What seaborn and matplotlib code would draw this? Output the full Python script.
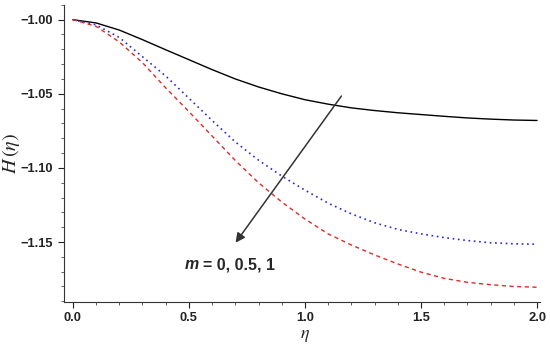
import numpy as np
import pandas as pd
import matplotlib
matplotlib.use("Agg")
import matplotlib.pyplot as plt
import seaborn as sns
from matplotlib.ticker import MultipleLocator, FormatStrFormatter, FuncFormatter

eta = [0.0, 0.1, 0.2, 0.3, 0.4, 0.5, 0.6, 0.7, 0.8, 0.9, 1.0,
       1.1, 1.2, 1.3, 1.4, 1.5, 1.6, 1.7, 1.8, 1.9, 2.0]
H_m0 = [-1.000, -1.0022, -1.007, -1.0135, -1.0203, -1.027, -1.0337, -1.0400, -1.0454, -1.050, -1.054,
        -1.057, -1.0595, -1.0613, -1.0628, -1.064, -1.0652, -1.0663, -1.0671, -1.0677, -1.068]
H_m05 = [-1.000, -1.0035, -1.012, -1.025, -1.038, -1.053, -1.068, -1.0825, -1.0948, -1.1055, -1.115,
         -1.1238, -1.131, -1.137, -1.1415, -1.1445, -1.147, -1.149, -1.1505, -1.1512, -1.1515]
H_m1 = [-1.000, -1.0045, -1.015, -1.029, -1.046, -1.062, -1.0785, -1.0950, -1.1100, -1.1230, -1.1345,
        -1.1445, -1.1520, -1.1587, -1.1648, -1.1703, -1.1745, -1.1772, -1.1788, -1.1800, -1.1805]
series_names = ["m=0", "m=0.5", "m=1"]
xticks_fmt = '%.1f'

sns.set_style("ticks")
plt.rcParams['font.family'] = ['Liberation Sans', 'DejaVu Sans']
plt.rcParams['mathtext.fontset'] = 'stix'

df = pd.concat([
    pd.DataFrame({"eta": eta, "H": H_m0, "m": series_names[0]}),
    pd.DataFrame({"eta": eta, "H": H_m05, "m": series_names[1]}),
    pd.DataFrame({"eta": eta, "H": H_m1, "m": series_names[2]}),
])

fig = plt.figure(figsize=(5.5, 3.46), dpi=100)
ax = fig.add_axes([0.116, 0.127, 0.866, 0.859])

palette = {"m=0": "black", "m=0.5": "#2a2ad0", "m=1": "#e02a2a"}
for name in series_names:
    sub = df[df["m"] == name]
    sns.lineplot(data=sub, x="eta", y="H", ax=ax, color=palette[name], lw=1.0, legend=False)
for line, name in zip(ax.get_lines(), series_names):
    if name == "m=0.5":
        line.set_linestyle((0, (1, 2.2)))
        line.set_linewidth(1.2)
    elif name == "m=1":
        line.set_linestyle((0, (3, 2.5)))

ax.set_xlim(-0.039, 2.013)
ax.set_ylim(-1.1905, -0.99)
ax.xaxis.set_major_locator(MultipleLocator(0.5))
ax.xaxis.set_minor_locator(MultipleLocator(0.1))
ax.yaxis.set_major_locator(MultipleLocator(0.05))
ax.yaxis.set_minor_locator(MultipleLocator(0.01))
ax.xaxis.set_major_formatter(FormatStrFormatter(xticks_fmt))
ax.yaxis.set_major_formatter(FuncFormatter(lambda v, p: f"{v:.2f}".replace('-', '\u2212')))
ax.tick_params(which='major', length=4, width=0.8, labelsize=9.3, colors='#222222')
ax.tick_params(which='minor', length=2, width=0.6, colors='#444444')
for lab in ax.get_xticklabels() + ax.get_yticklabels():
    lab.set_fontweight('bold')
sns.despine(ax=ax)
for s in ["left", "bottom"]:
    ax.spines[s].set_linewidth(0.8)
    ax.spines[s].set_color('#333333')

ax.set_xlabel(r"$\eta$", fontsize=13)
ax.set_ylabel(r"$H\,(\eta)$", fontsize=14.5)
ax.yaxis.set_label_coords(-0.088, 0.50)
ax.xaxis.set_label_coords(0.506, -0.083)

ax.annotate("", xy=(0.694, -1.152), xytext=(1.164, -1.05),
            arrowprops=dict(arrowstyle="-|>", color="#333333", lw=1.1, mutation_scale=14))
ax.text(0.483, -1.1655, "m", fontsize=11.5, fontweight='bold',
        fontstyle='italic', va='center', ha='left')
ax.text(0.562, -1.1655, "= 0, 0.5, 1", fontsize=11.5, fontweight='bold', va='center', ha='left')

fig.savefig("out.png", dpi=100)
